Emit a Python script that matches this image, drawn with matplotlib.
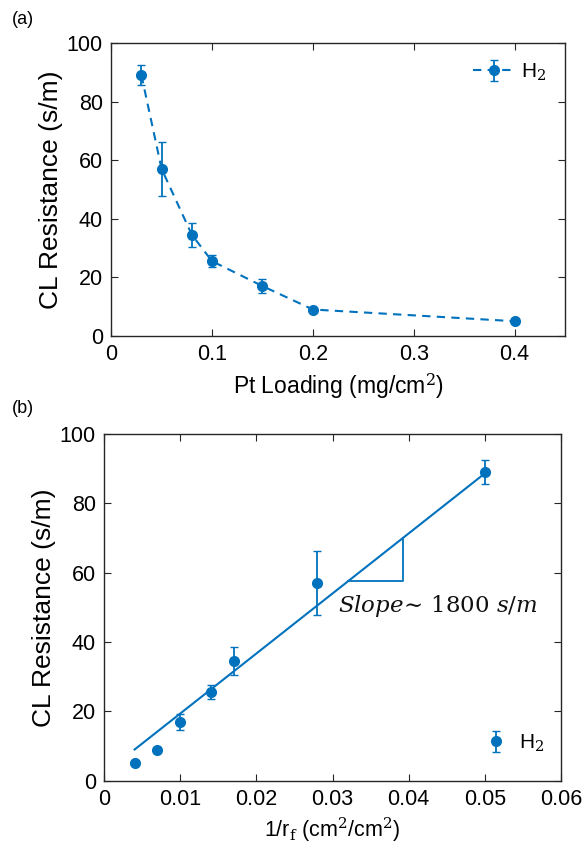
import numpy as np
import matplotlib.pyplot as plt

plt.rcParams['font.family'] = ['Liberation Sans', 'DejaVu Sans']
plt.rcParams['mathtext.fontset'] = 'dejavuserif'

# data
loading = [0.03, 0.05, 0.08, 0.1, 0.15, 0.2, 0.4]
inv_rf = [0.050, 0.028, 0.017, 0.014, 0.010, 0.007, 0.004]
resist = [89, 57, 34.5, 25.5, 17, 9, 5]
resist_err = [3.5, 9.3, 4.0, 2.0, 2.3, 0.5, 0.5]
fit_slope = 1730
fit_icpt = 2.1
fit_x = [0.004, 0.050]
tri_x = [0.032, 0.0392]

blue = '#0072BD'
spine_col = '#262626'

fig = plt.figure(figsize=(5.85, 8.59), dpi=100)
ax1 = fig.add_axes([0.19, 0.609, 0.776, 0.341])
ax2 = fig.add_axes([0.178, 0.091, 0.781, 0.404])

def style(ax):
    for s in ax.spines.values():
        s.set_color(spine_col)
        s.set_linewidth(1.0)
    ax.tick_params(direction='in', top=True, right=True, labelsize=15.5, length=5,
                   color=spine_col, pad=6)

# panel (a)
ax1.errorbar(loading, resist, yerr=resist_err, fmt='o--', color=blue, ms=7,
             capsize=3, elinewidth=1.3, lw=1.5, dashes=(4, 3), label='H$_2$')
ax1.set_xlim(0, 0.45)
ax1.set_ylim(0, 100)
ax1.set_xticks([0, 0.1, 0.2, 0.3, 0.4])
ax1.set_xticklabels(['0', '0.1', '0.2', '0.3', '0.4'])
ax1.set_yticks([0, 20, 40, 60, 80, 100])
style(ax1)
ax1.set_xlabel('Pt Loading (mg/cm$^2$)', fontsize=16.5, labelpad=5)
ax1.set_ylabel('CL Resistance (s/m)', fontsize=19, labelpad=3)
ax1.legend(loc='upper right', frameon=False, fontsize=15, handlelength=2.0,
           handletextpad=0.3, borderaxespad=0.5)

# panel (b)
fx = np.array(fit_x)
ax2.plot(fx, fit_slope * fx + fit_icpt, color=blue, lw=1.5)
ty0 = fit_slope * tri_x[0] + fit_icpt
ty1 = fit_slope * tri_x[1] + fit_icpt
ax2.plot([tri_x[0], tri_x[1], tri_x[1]], [ty0, ty0, ty1], color=blue, lw=1.3)
ax2.errorbar(inv_rf, resist, yerr=resist_err, fmt='o', color=blue, ms=7,
             capsize=3, elinewidth=1.3, label='H$_2$')
ax2.text(0.0307, 50.5, r'$Slope\!\sim\,1800\ s/m$', fontsize=16.5, color='#111111',
         va='center', ha='left')
ax2.set_xlim(0, 0.06)
ax2.set_ylim(0, 100)
ax2.set_xticks([0, 0.01, 0.02, 0.03, 0.04, 0.05, 0.06])
ax2.set_xticklabels(['0', '0.01', '0.02', '0.03', '0.04', '0.05', '0.06'])
ax2.set_yticks([0, 20, 40, 60, 80, 100])
style(ax2)
ax2.set_xlabel('1/r$_\\mathrm{f}$ (cm$^2$/cm$^2$)', fontsize=15.5, labelpad=4)
ax2.set_ylabel('CL Resistance (s/m)', fontsize=19, labelpad=3)
ax2.legend(loc='lower right', frameon=False, fontsize=15, handlelength=1.0,
           handletextpad=0.6, borderaxespad=0.4, bbox_to_anchor=(1.0, 0.03))

fig.text(0.02, 0.977, '(a)', fontsize=13, va='center')
fig.text(0.02, 0.525, '(b)', fontsize=13, va='center')

fig.savefig('out.png', dpi=100)
